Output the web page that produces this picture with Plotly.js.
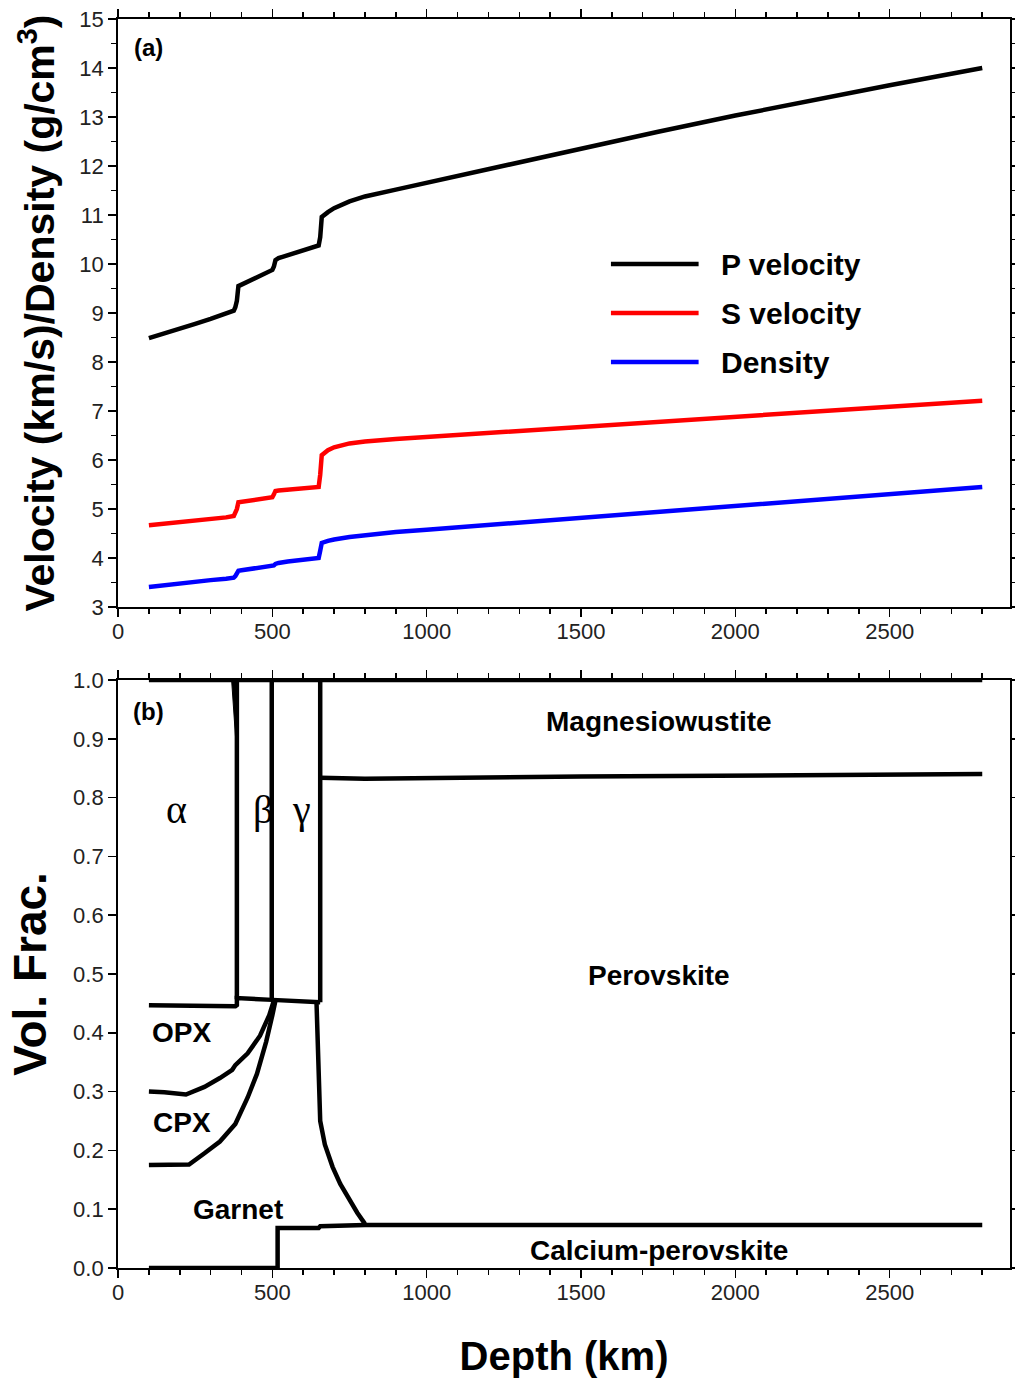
<!DOCTYPE html>
<html>
<head>
<meta charset="utf-8">
<script src="https://cdn.plot.ly/plotly-3.0.1.min.js"></script>
<style>html,body{margin:0;padding:0;background:#fff;}#chart{width:1015px;height:1380px;}</style>
</head>
<body>
<div id="chart"></div>
<script>
// ---- Panel (a): seismic profiles ----
const depthA = [100,150,200,250,300,350,375,380,385,390,400,450,500,505,510,520,550,600,650,655,660,680,700,750,800,900,1000,1250,1500,1750,2000,2250,2500,2800];
const pVel   = [8.49,8.58,8.68,8.78,8.88,8.98,9.05,9.12,9.25,9.55,9.58,9.73,9.88,9.95,10.08,10.12,10.18,10.28,10.38,10.55,10.96,11.06,11.14,11.28,11.38,11.52,11.66,12.02,12.36,12.70,13.03,13.35,13.65,14.0];
const sVel   = [4.67,4.70,4.73,4.76,4.79,4.83,4.86,4.92,5.00,5.14,5.15,5.19,5.24,5.30,5.37,5.38,5.40,5.42,5.45,5.70,6.10,6.20,6.26,6.34,6.38,6.43,6.47,6.57,6.68,6.78,6.89,6.99,7.09,7.21];
const dens   = [3.41,3.45,3.49,3.52,3.55,3.58,3.60,3.63,3.70,3.74,3.75,3.79,3.83,3.85,3.88,3.90,3.93,3.96,4.00,4.15,4.31,4.35,4.38,4.43,4.47,4.53,4.58,4.70,4.82,4.94,5.06,5.17,5.30,5.45];
const seriesNames = ["P velocity","S velocity","Density"];
const seriesColors = ["#000000","#ff0000","#0000ff"];
const legendRows = [10,9,8];

// ---- Panel (b): phase volume fraction boundaries ----
const topD = [100,2800],            topF = [1.0,1.0];
const wedgeD = [368,385,385,368],   wedgeF = [1.0,1.0,0.87,1.0];
const abD = [385,385],              abF = [0.457,1.0];
const bgD = [498,498],              bgF = [0.455,1.0];
const gpD = [655,655],              gpF = [0.452,1.0];
const mwD = [655,700,800,1500,2800], mwF = [0.834,0.833,0.832,0.836,0.840];
const opxTopD = [100,380,385,385,500,655], opxTopF = [0.447,0.445,0.447,0.459,0.456,0.452];
const opxCpxD = [100,150,220,280,330,370,380,420,460,490,505], opxCpxF = [0.300,0.299,0.295,0.308,0.323,0.337,0.345,0.365,0.395,0.430,0.455];
const cpxGtD = [100,150,230,280,330,380,420,450,480,500,510], cpxGtF = [0.175,0.175,0.176,0.195,0.215,0.245,0.290,0.330,0.385,0.430,0.455];
const gtPvD = [643,647,650,655,670,695,720,750,775,800], gtPvF = [0.452,0.40,0.32,0.25,0.21,0.172,0.143,0.115,0.094,0.075];
const caPvD = [100,517,517,650,655,800,2800], caPvF = [0,0,0.068,0.068,0.071,0.073,0.073];

const phaseLabels = [
  {t:"Magnesiowustite", x:1752, y:0.929},
  {t:"Perovskite", x:1752, y:0.498},
  {t:"OPX", x:207, y:0.40},
  {t:"CPX", x:207, y:0.248},
  {t:"Garnet", x:388, y:0.099},
  {t:"Calcium-perovskite", x:1752, y:0.029}
];
const greekLabels = [{t:"α",x:190},{t:"β",x:469},{t:"γ",x:594}];

const LW = 4.5;
const traces = [];
[pVel,sVel,dens].forEach((v,i)=>{
  traces.push({x:depthA,y:v,type:"scatter",mode:"lines",name:seriesNames[i],
    line:{color:seriesColors[i],width:LW},xaxis:"x",yaxis:"y",showlegend:false});
});
function bline(d,f){
  traces.push({x:d,y:f,type:"scatter",mode:"lines",line:{color:"#000",width:LW},xaxis:"x2",yaxis:"y2",showlegend:false});
}
bline(topD,topF);
traces.push({x:wedgeD,y:wedgeF,type:"scatter",mode:"lines",fill:"toself",fillcolor:"#000",line:{color:"#000",width:1},xaxis:"x2",yaxis:"y2",showlegend:false});
bline(abD,abF); bline(bgD,bgF); bline(gpD,gpF); bline(mwD,mwF);
bline(opxTopD,opxTopF); bline(opxCpxD,opxCpxF); bline(cpxGtD,cpxGtF);
bline(gtPvD,gtPvF); bline(caPvD,caPvF);

const FONT = "Liberation Sans, Arial, sans-serif";
const tickFont = {family:FONT,size:22,color:"#222"};
const common = {showline:true,linecolor:"#000",linewidth:2,mirror:"ticks",ticks:"outside",
  ticklen:8,tickwidth:1.5,tickcolor:"#000",showgrid:false,zeroline:false,tickfont:tickFont};

const shapes = [];
const annotations = [];
legendRows.forEach((yv,i)=>{
  shapes.push({type:"line",xref:"x",yref:"y",x0:1597,x1:1881,y0:yv,y1:yv,line:{color:seriesColors[i],width:4.5}});
  annotations.push({xref:"x",yref:"y",x:1946,y:yv,xanchor:"left",yanchor:"middle",text:"<b>"+seriesNames[i]+"</b>",showarrow:false,font:{family:FONT,size:30,color:"#000"}});
});
annotations.push({xref:"x",yref:"y",x:45,y:14.41,xanchor:"left",yanchor:"middle",text:"<b>(a)</b>",showarrow:false,font:{family:FONT,size:24,color:"#000"}});
annotations.push({xref:"x2",yref:"y2",x:42,y:0.946,xanchor:"left",yanchor:"middle",text:"<b>(b)</b>",showarrow:false,font:{family:FONT,size:24,color:"#000"}});
phaseLabels.forEach(p=>annotations.push({xref:"x2",yref:"y2",x:p.x,y:p.y,xanchor:"center",yanchor:"middle",text:"<b>"+p.t+"</b>",showarrow:false,font:{family:FONT,size:28,color:"#000"}}));
greekLabels.forEach(g=>annotations.push({xref:"x2",yref:"y2",x:g.x,y:0.78,xanchor:"center",yanchor:"middle",text:g.t,showarrow:false,font:{family:"Liberation Serif, Times New Roman, serif",size:40,color:"#000"}}));

const layout = {
  width:1015,height:1380,margin:{l:0,r:0,t:0,b:0},paper_bgcolor:"#fff",plot_bgcolor:"#fff",
  showlegend:false,
  xaxis:Object.assign({},common,{domain:[0.1163,0.9951],range:[0,2890],dtick:500,tick0:0,anchor:"y",ticklabelstandoff:-4,
    minor:{dtick:100,ticks:"outside",ticklen:5,tickcolor:"#000"}}),
  yaxis:Object.assign({},common,{domain:[0.5601,0.9862],range:[3,15],dtick:1,tick0:3,anchor:"x",
    minor:{dtick:0.5,ticks:"outside",ticklen:5,tickcolor:"#000"},
    title:{text:"<b>Velocity (km/s)/Density (g/cm<sup>3</sup>)</b>",font:{family:FONT,size:41,color:"#000"},standoff:12}}),
  xaxis2:Object.assign({},common,{domain:[0.1163,0.9951],range:[0,2890],dtick:500,tick0:0,anchor:"y2",ticklabelstandoff:-4,
    minor:{dtick:100,ticks:"outside",ticklen:5,tickcolor:"#000"},
    title:{text:"<b>Depth (km)</b>",font:{family:FONT,size:40,color:"#000"},standoff:38}}),
  yaxis2:Object.assign({},common,{domain:[0.0812,0.5072],range:[0,1],dtick:0.1,tick0:0,tickformat:".1f",anchor:"x2",
    title:{text:"<b>Vol. Frac.</b>",font:{family:FONT,size:46,color:"#000"},standoff:12}}),
  shapes:shapes,annotations:annotations
};
Plotly.newPlot("chart",traces,layout,{displayModeBar:false,staticPlot:true});
</script>
</body>
</html>
